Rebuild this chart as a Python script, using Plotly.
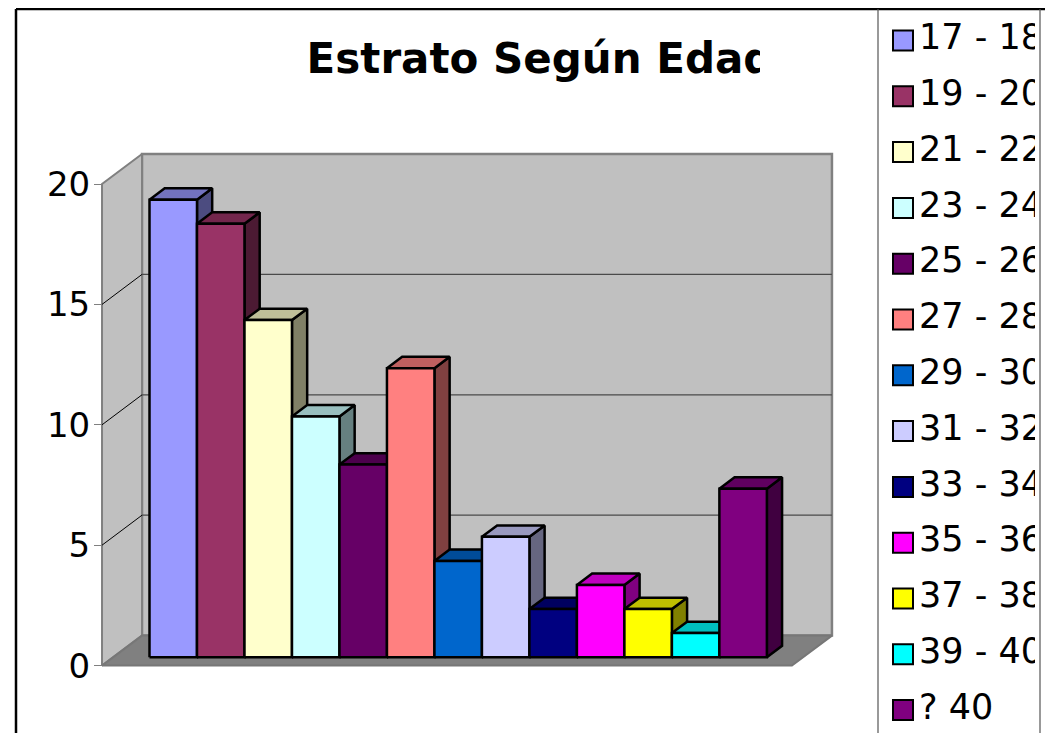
import plotly.graph_objects as go

# ---------------- data ----------------
categories = ["17 - 18", "19 - 20", "21 - 22", "23 - 24", "25 - 26", "27 - 28",
              "29 - 30", "31 - 32", "33 - 34", "35 - 36", "37 - 38", "39 - 40", "? 40"]
values = [19, 18, 14, 10, 8, 12, 4, 5, 2, 3, 2, 1, 7]
colors = ["#9999FF", "#993366", "#FFFFCC", "#CCFFFF", "#660066", "#FF8080",
          "#0066CC", "#CCCCFF", "#000080", "#FF00FF", "#FFFF00", "#00FFFF", "#800080"]
y_ticks = [0, 5, 10, 15, 20]
title_text = "Estrato Según Edad"

# ---------------- geometry / style ----------------
W, H = 1053, 733
OFF = 8                          # page body margin of the html page
PXU, PXV = 47.49, 24.08          # pixels per category unit / per value unit
X0, Y0 = 138.3, 665.6            # screen pixel of u=0 / v=0 on the front plane
MARGIN_U = 0.764                 # floor margin beyond first/last bar
DU, DV = 40 / PXU, 30 / PXV      # full depth offset (oblique projection)
BAR_FRONT, BAR_BACK = 0.28, 0.66 # bar depth fractions
FONT = "DejaVu Sans"


def shade(hexc, f):
    h = hexc.lstrip("#")
    r, g, b = (int(h[i:i + 2], 16) for i in (0, 2, 4))
    return "rgb(%d,%d,%d)" % (round(r * f), round(g * f), round(b * f))


fig = go.Figure()


def poly(pts, fill, lc, lw):
    xs = [p[0] for p in pts] + [pts[0][0]]
    ys = [p[1] for p in pts] + [pts[0][1]]
    fig.add_trace(go.Scatter(x=xs, y=ys, mode="lines", fill="toself", fillcolor=fill,
                             line=dict(color=lc, width=lw), hoverinfo="skip",
                             showlegend=False))


def seg(pts, lc, lw):
    fig.add_trace(go.Scatter(x=[p[0] for p in pts], y=[p[1] for p in pts], mode="lines",
                             line=dict(color=lc, width=lw), hoverinfo="skip", showlegend=False))


n = len(values)
uL, uR = -MARGIN_U, n + MARGIN_U
vT = max(y_ticks)

# walls and floor
poly([(uL + DU, DV), (uR + DU, DV), (uR + DU, vT + DV), (uL + DU, vT + DV)], "#C0C0C0", "#808080", 2.5)
poly([(uL, 0), (uL + DU, DV), (uL + DU, vT + DV), (uL, vT)], "#C0C0C0", "#808080", 2)
poly([(uL, 0), (uR, 0), (uR + DU, DV), (uL + DU, DV)], "#808080", "#777777", 2)

# gridlines
for t in y_ticks[1:-1]:
    seg([(uL, t), (uL + DU, t + DV)], "#000000", 1)
    seg([(uL + DU, t + DV), (uR + DU, t + DV)], "#4A4A4A", 1.2)

# 3D bars (painter's order, left to right)
fu, fv = BAR_FRONT * DU, BAR_FRONT * DV
bu, bv = BAR_BACK * DU, BAR_BACK * DV
for i, (v, c) in enumerate(zip(values, colors)):
    poly([(i + 1 + fu, fv), (i + 1 + bu, bv), (i + 1 + bu, v + bv), (i + 1 + fu, v + fv)],
         shade(c, 0.5), "#000000", 2.5)
    poly([(i + fu, v + fv), (i + 1 + fu, v + fv), (i + 1 + bu, v + bv), (i + bu, v + bv)],
         shade(c, 0.75), "#000000", 2.5)
    poly([(i + fu, fv), (i + 1 + fu, fv), (i + 1 + fu, v + fv), (i + fu, v + fv)],
         c, "#000000", 2.5)

# title (clipped by its own subplot)
fig.add_trace(go.Scatter(x=[540], y=[62], text=[title_text], mode="text",
                         textposition="middle center", cliponaxis=True,
                         textfont=dict(family=FONT, size=42, color="black", weight="bold"),
                         hoverinfo="skip", showlegend=False, xaxis="x2", yaxis="y2"))

# legend (custom, clipped by its own subplot)
ROW0, ROWSTEP = 40.5, 55.8
rows = [ROW0 + ROWSTEP * k for k in range(n)]
fig.add_trace(go.Scatter(x=[903] * n, y=rows, mode="markers",
                         marker=dict(symbol="square", size=20, color=colors,
                                     line=dict(color="black", width=2)),
                         hoverinfo="skip", showlegend=False, xaxis="x3", yaxis="y3"))
fig.add_trace(go.Scatter(x=[919] * n, y=rows, text=categories, mode="text",
                         textposition="middle right", cliponaxis=True,
                         textfont=dict(family=FONT, size=35, color="black"),
                         hoverinfo="skip", showlegend=False, xaxis="x3", yaxis="y3"))


# frames (screen pixel -> paper)
def px(x):
    return (x - OFF) / W


def py(y):
    return 1 - (y - OFF) / H


TOP = 9
shapes = [
    dict(type="line", x0=px(16), x1=px(1048), y0=py(TOP), y1=py(TOP), line=dict(color="black", width=2.5)),
    dict(type="line", x0=px(16), x1=px(16), y0=py(TOP), y1=0, line=dict(color="black", width=2.5)),
    dict(type="line", x0=px(1048), x1=px(1048), y0=py(TOP), y1=0, line=dict(color="#333333", width=2.5)),
    dict(type="line", x0=px(878), x1=px(878), y0=py(TOP), y1=0, line=dict(color="#555555", width=1.2)),
    dict(type="line", x0=px(1040), x1=px(1040), y0=py(TOP), y1=0, line=dict(color="#555555", width=1.2)),
]
for s in shapes:
    s.update(xref="paper", yref="paper", layer="above")

LEG_CLIP = 1035
fig.update_layout(
    width=W, height=H, margin=dict(l=0, r=0, t=0, b=0, pad=0),
    paper_bgcolor="white", plot_bgcolor="rgba(0,0,0,0)", showlegend=False,
    xaxis=dict(domain=[0, 1], range=[-(X0 - OFF) / PXU, (W - (X0 - OFF)) / PXU],
               visible=False, fixedrange=True),
    yaxis=dict(domain=[0, 1], range=[((Y0 - OFF) - H) / PXV, (Y0 - OFF) / PXV], anchor="free",
               position=(X0 - OFF + uL * PXU) / W, tickvals=y_ticks, ticks="outside", ticklen=8,
               tickwidth=1.2, tickcolor="#808080", showgrid=False, zeroline=False,
               showline=False, fixedrange=True, ticklabelstandoff=-3,
               tickfont=dict(family=FONT, size=34, color="black")),
    xaxis2=dict(domain=[0, (760 - OFF) / W], range=[OFF, 760], visible=False, anchor="y2", fixedrange=True),
    yaxis2=dict(domain=[0, 1], range=[H + OFF, OFF], visible=False, anchor="x2", fixedrange=True),
    xaxis3=dict(domain=[0, (LEG_CLIP - OFF) / W], range=[OFF, LEG_CLIP], visible=False, anchor="y3", fixedrange=True),
    yaxis3=dict(domain=[0, 1], range=[H + OFF, OFF], visible=False, anchor="x3", fixedrange=True),
    shapes=shapes,
)

fig.write_html("out.html")
